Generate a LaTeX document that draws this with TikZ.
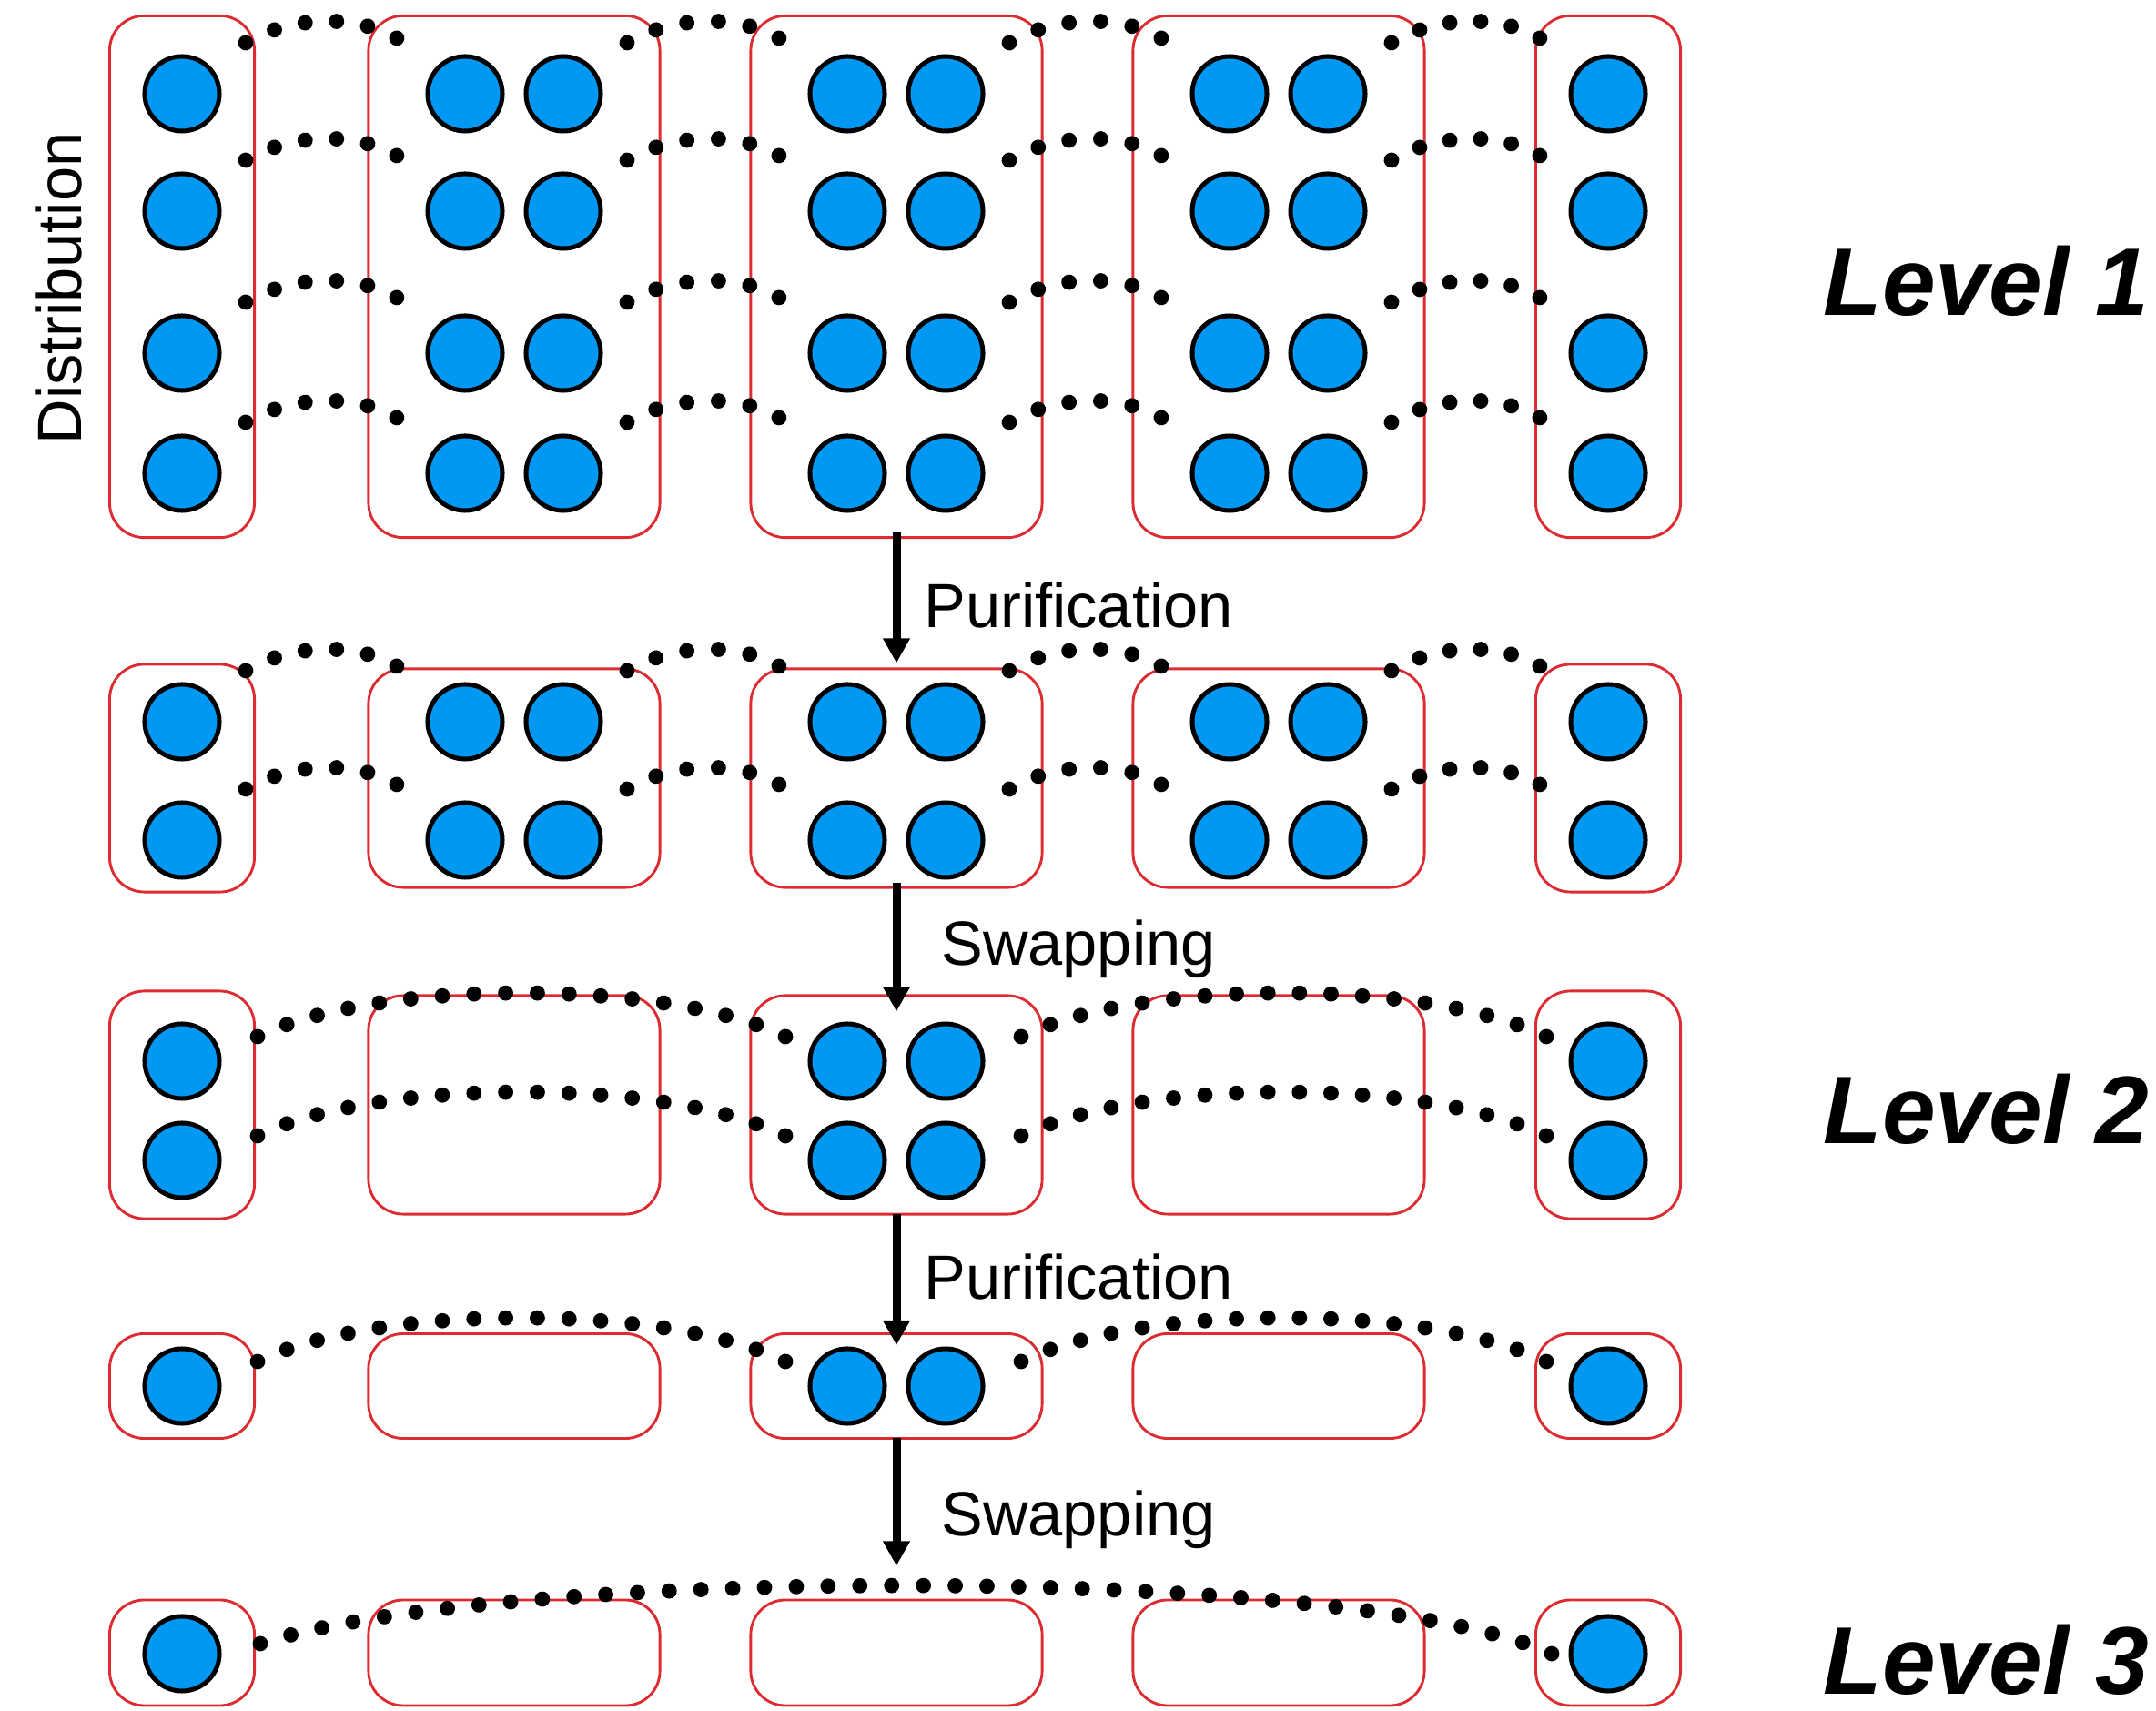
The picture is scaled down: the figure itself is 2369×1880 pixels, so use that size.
\documentclass[tikz,border=0pt]{standalone}
\usepackage{fontspec}
\setmainfont{Liberation Sans}
\usetikzlibrary{arrows.meta,calc,decorations.markings}
\definecolor{nodered}{RGB}{220,44,50}
\definecolor{qubitblue}{RGB}{0,152,242}

\begin{document}
\begin{tikzpicture}[x=0.01cm, y=0.01cm,
    station/.style={rectangle, draw=nodered, line width=0.029cm, rounded corners=0.38cm, inner sep=0pt},
    qubit/.style={circle, draw, fill=qubitblue, line width=0.05cm, minimum size=0.82cm, inner sep=0pt},
    pair/.style={postaction={decorate}, decoration={markings,
        mark=between positions 0 and 1 step #1 with {\fill (0,0) circle (0.084cm);}}},
    op/.style={line width=0.09cm, -{Triangle[length=0.27cm, width=0.28cm]}},
    oplabel/.style={anchor=base, inner sep=0pt, font=\fontsize{19.5}{20}\selectfont},
    levellabel/.style={anchor=base west, inner sep=0pt, font=\fontsize{30}{30}\selectfont\bfseries\itshape}]
    \useasboundingbox (0,0) rectangle (2369,-1880);

    % stations of the five stages
    \foreach \s/\x/\w/\h in {1/200/1.59cm/2.50cm, 2/565/3.2cm/2.40cm, 3/985/3.2cm/2.40cm, 4/1405/3.2cm/2.40cm, 5/1767/1.59cm/2.50cm} {
        \node [station, minimum width=\w, minimum height=5.73cm] (A\s) at (\x,-304) {};
        \node [station, minimum width=\w, minimum height=\h] (B\s) at (\x,-855) {};
        \node [station, minimum width=\w, minimum height=\h] (C\s) at (\x,-1214) {};
        \node [station, minimum width=\w, minimum height=1.15cm] (D\s) at (\x,-1523) {};
        \node [station, minimum width=\w, minimum height=1.16cm] (E\s) at (\x,-1816) {};
    }

    % qubits
    \foreach \c/\x in {1/200, 2/511, 3/619, 4/931, 5/1039, 6/1351, 7/1459, 8/1767} {
        \foreach \r/\y in {1/103, 2/232, 3/388, 4/520}
            \node [qubit] (A-\c-\r) at (\x,-\y) {};
        \foreach \r/\y in {1/793, 2/923}
            \node [qubit] (B-\c-\r) at (\x,-\y) {};
    }
    \foreach \c/\x in {1/200, 4/931, 5/1039, 8/1767} {
        \foreach \r/\y in {1/1166, 2/1275}
            \node [qubit] (C-\c-\r) at (\x,-\y) {};
        \node [qubit] (D-\c-1) at (\x,-1523) {};
    }
    \node [qubit] (E-1-1) at (200,-1817) {};
    \node [qubit] (E-8-1) at (1767,-1817) {};

    % entangled pairs
    \foreach \a/\b in {1/2, 3/4, 5/6, 7/8} {
        \foreach \r in {1,...,4}
            \path [pair=0.1999] ($(A-\a-\r)+(70,56)$) .. controls +(48,28) and +(-48,28) .. ($(A-\b-\r)+(-75,61)$);
        \foreach \r in {1,2}
            \path [pair=0.1999] ($(B-\a-\r)+(70,56)$) .. controls +(48,28) and +(-48,28) .. ($(B-\b-\r)+(-75,61)$);
    }
    \foreach \a/\b in {1/4, 5/8} {
        \foreach \r in {1,2} {
            \path [pair=0.0588] ($(C-\a-\r)+(83,27)$) .. controls +(131,64) and +(-131,64) .. ($(C-\b-\r)+(-68,27)$);
            \fill ($(C-\b-\r)+(-68,27)$) circle (0.084cm);
        }
        \path [pair=0.0588] ($(D-\a-1)+(83,27)$) .. controls +(131,64) and +(-131,64) .. ($(D-\b-1)+(-68,27)$);
        \fill ($(D-\b-1)+(-68,27)$) circle (0.084cm);
    }
    \path [pair=0.02438] ($(E-1-1)+(86,11)$) .. controls +(260,85) and +(-220,100) .. ($(E-8-1)+(-62,0)$);
    \fill ($(E-8-1)+(-62,0)$) circle (0.084cm);

    % operations
    \draw [op] ($(A3.south)+(0,8)$) -- ($(B3.north)+(0,5)$);
    \draw [op] ($(B3.south)+(0,7)$) -- ($(C3.north)+(0,-19)$);
    \draw [op] ($(C3.south)+(0,2)$) -- ($(D3.north)+(0,-14)$);
    \draw [op] ($(D3.south)+(0,2)$) -- ($(E3.north)+(0,36)$);
    \node [oplabel] (purify1) at (1185,-690) {Purification};
    \node [oplabel] (swap1) at (1185,-1061) {Swapping};
    \node [oplabel] (purify2) at (1185,-1428) {Purification};
    \node [oplabel] (swap2) at (1185,-1688) {Swapping};
    \node [oplabel, rotate=90] (distrib) at (89,-317) {Distribution};

    \node [levellabel] (level1) at (2003,-347) {Level 1};
    \node [levellabel] (level2) at (2003,-1257) {Level 2};
    \node [levellabel] (level3) at (2003,-1861) {Level 3};
\end{tikzpicture}
\end{document}
